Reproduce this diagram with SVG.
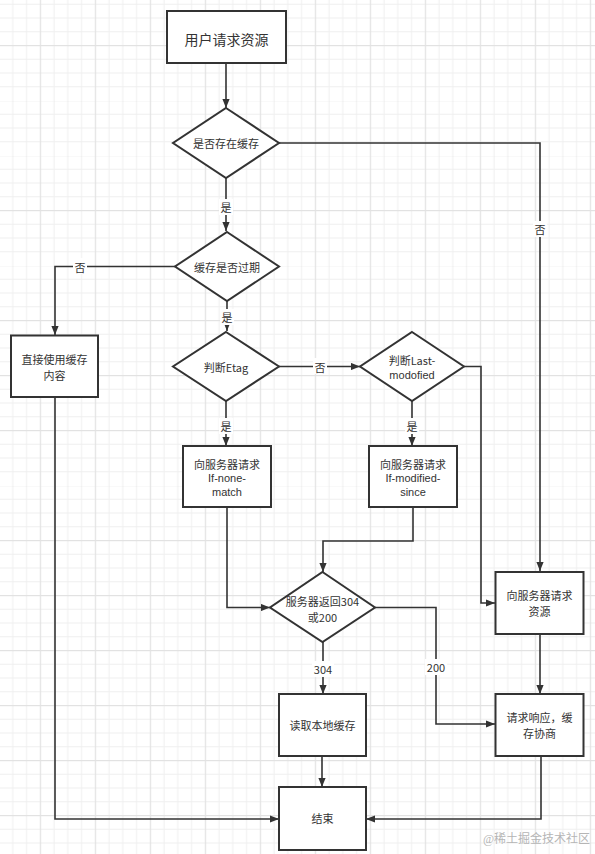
<svg xmlns="http://www.w3.org/2000/svg" width="595" height="854" viewBox="0 0 595 854">
<defs>
<pattern id="grid" patternUnits="userSpaceOnUse" x="39.8" y="45" width="55" height="55">
<rect x="0" y="0" width="55" height="55" fill="#ffffff"/>
<g fill="#efefef">
<rect x="13.75" y="0" width="1" height="55"/>
<rect x="27.5" y="0" width="1" height="55"/>
<rect x="41.25" y="0" width="1" height="55"/>
<rect x="0" y="13.75" width="55" height="1"/>
<rect x="0" y="27.5" width="55" height="1"/>
<rect x="0" y="41.25" width="55" height="1"/>
</g>
<g fill="#e2e2e2">
<rect x="0" y="0" width="1.2" height="55"/>
<rect x="0" y="0" width="55" height="1.2"/>
</g>
</pattern>
<marker id="arr" viewBox="0 0 10 8" refX="10" refY="4" markerWidth="9" markerHeight="7.2" markerUnits="userSpaceOnUse" orient="auto">
<path d="M0,0 L10,4 L0,8 z" fill="#333333"/>
</marker>
<style>
.box{fill:#ffffff;stroke:#333333;stroke-width:2}
.edge{fill:none;stroke:#333333;stroke-width:1.6;marker-end:url(#arr)}
.t{font-family:"Noto Sans CJK SC","Liberation Sans",sans-serif;font-size:11px;fill:#333333;text-anchor:middle;dominant-baseline:central}
.lat{font-family:"Liberation Sans",sans-serif}
.big{font-size:14px}
.lb{fill:#ffffff}
.wm{font-family:"Liberation Serif","Noto Sans CJK SC",serif;font-size:12px;fill:#b5b5b5;text-anchor:end}
</style>
</defs>
<rect width="595" height="854" fill="url(#grid)"/>

<g id="connectors">
<path class="edge" d="M226,63 L226,108"/>
<path class="edge" d="M279,143 L540,143 L540,571"/>
<path class="edge" d="M226,178 L226,231"/>
<path class="edge" d="M175,266.5 L55,266.5 L55,335"/>
<path class="edge" d="M227,301 L227,331"/>
<path class="edge" d="M279,366.5 L360,366.5"/>
<path class="edge" d="M464,366.5 L481,366.5 L481,603 L495,603"/>
<path class="edge" d="M226,401 L226,446"/>
<path class="edge" d="M412,401 L412,446"/>
<path class="edge" d="M227,507 L227,607.5 L270,607.5"/>
<path class="edge" d="M413,507 L413,541 L323,541 L323,572"/>
<path class="edge" d="M375,607.5 L436,607.5 L436,724 L495,724"/>
<path class="edge" d="M323,642 L323,694"/>
<path class="edge" d="M540,634 L540,694"/>
<path class="edge" d="M55,397 L55,819 L279,819"/>
<path class="edge" d="M541,756 L541,819 L366,819"/>
<path class="edge" d="M322,756 L322,787"/>
<rect class="lb" x="533" y="221" width="14" height="16"/>
<text class="t" x="540" y="229">否</text>
<rect class="lb" x="219" y="199" width="14" height="16"/>
<text class="t" x="226" y="207">是</text>
<rect class="lb" x="73" y="258" width="14" height="16"/>
<text class="t" x="80" y="266.5">否</text>
<rect class="lb" x="220" y="309" width="14" height="16"/>
<text class="t" x="227" y="317">是</text>
<rect class="lb" x="313" y="358" width="14" height="16"/>
<text class="t" x="320" y="366.5">否</text>
<rect class="lb" x="219" y="418" width="14" height="16"/>
<text class="t" x="226" y="426">是</text>
<rect class="lb" x="405" y="418" width="14" height="16"/>
<text class="t" x="412" y="426">是</text>
<rect class="lb" x="425" y="659" width="22" height="16"/>
<text class="t" x="436" y="667">200</text>
<rect class="lb" x="312" y="661" width="22" height="16"/>
<text class="t" x="323" y="669">304</text>
</g>

<g id="n1">
<rect class="box" x="167" y="11" width="119" height="52"/>
<text class="t big" x="226.5" y="39">用户请求资源</text>
</g>
<g id="d1">
<polygon class="box" points="226,108 279,143 226,178 173,143"/>
<text class="t" x="226" y="143">是否存在缓存</text>
</g>
<g id="d2">
<polygon class="box" points="227,232 279,266.5 227,301 175,266.5"/>
<text class="t" x="227" y="266.5">缓存是否过期</text>
</g>
<g id="n2">
<rect class="box" x="11" y="335.5" width="87" height="61.5"/>
<text class="t" x="54.5" y="359">直接使用缓存</text>
<text class="t" x="54.5" y="375">内容</text>
</g>
<g id="d3">
<polygon class="box" points="226,332 279,366.5 226,401 173,366.5"/>
<text class="t" x="226" y="366.5">判断Etag</text>
</g>
<g id="d4">
<polygon class="box" points="412,332 464,366.5 412,401 360,366.5"/>
<text class="t" x="412" y="360">判断Last-</text>
<text class="t lat" x="412" y="375">modofied</text>
</g>
<g id="n3">
<rect class="box" x="183" y="446" width="88" height="61"/>
<text class="t" x="227" y="463.5">向服务器请求</text>
<text class="t lat" x="227" y="478">If-none-</text>
<text class="t lat" x="227" y="492">match</text>
</g>
<g id="n4">
<rect class="box" x="369" y="446" width="88" height="61"/>
<text class="t" x="413" y="463.5">向服务器请求</text>
<text class="t lat" x="413" y="478">If-modified-</text>
<text class="t lat" x="413" y="492">since</text>
</g>
<g id="d5">
<polygon class="box" points="322.5,572 375,607.5 322.5,642 270,607.5"/>
<text class="t" x="322.5" y="600.5">服务器返回304</text>
<text class="t" x="322.5" y="616.5">或200</text>
</g>
<g id="n5">
<rect class="box" x="495.5" y="572" width="88" height="62"/>
<text class="t" x="539.5" y="595">向服务器请求</text>
<text class="t" x="539.5" y="611">资源</text>
</g>
<g id="n6">
<rect class="box" x="279" y="694" width="87" height="62"/>
<text class="t" x="322.5" y="725">读取本地缓存</text>
</g>
<g id="n7">
<rect class="box" x="495.5" y="694" width="88" height="62"/>
<text class="t" x="539.5" y="717">请求响应，缓</text>
<text class="t" x="539.5" y="733">存协商</text>
</g>
<g id="n8">
<rect class="box" x="279" y="787" width="87" height="63"/>
<text class="t" x="322.5" y="818">结束</text>
</g>
<text class="wm" x="590" y="843">@稀土掘金技术社区</text>
</svg>
